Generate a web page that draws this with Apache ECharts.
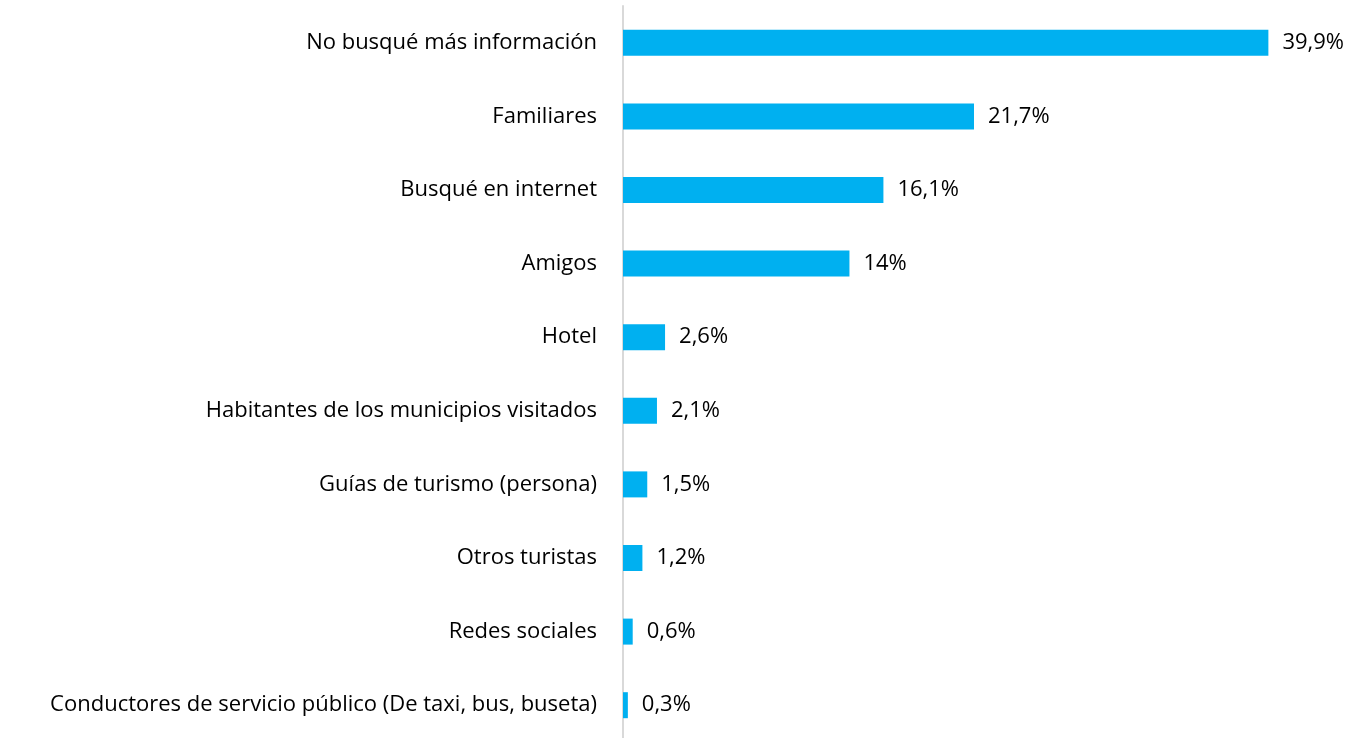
<!DOCTYPE html>
<html>
<head>
<meta charset="utf-8">
<script src="https://cdn.jsdelivr.net/npm/echarts@6/dist/echarts.min.js"></script>
<style>
  html, body { margin: 0; padding: 0; background: #fff; overflow: hidden; }
  #chart { width: 1353px; height: 760px; }
</style>
</head>
<body>
<div id="chart"></div>
<script>
// categories top to bottom
const categories = [
  'No busqué más información',
  'Familiares',
  'Busqué en internet',
  'Amigos',
  'Hotel',
  'Habitantes de los municipios visitados',
  'Guías de turismo (persona)',
  'Otros turistas',
  'Redes sociales',
  'Conductores de servicio público (De taxi, bus, buseta)'
]
const values = [39.9, 21.7, 16.1, 14, 2.6, 2.1, 1.5, 1.2, 0.6, 0.3]

const chart = echarts.init(document.getElementById('chart'))

const option = {
  animation: false,
  textStyle: { fontFamily: 'Open Sans' },
  grid: {
    left: 623,
    width: 647,
    top: 6,
    height: 736,
    containLabel: false
  },
  xAxis: {
    type: 'value',
    min: 0,
    max: 40,
    show: false
  },
  yAxis: {
    type: 'category',
    inverse: true,
    data: categories,
    axisLine: { show: true, lineStyle: { color: '#d9d9d9', width: 2 } },
    axisTick: { show: false },
    axisLabel: {
      margin: 26,
      fontSize: 22,
      color: '#000',
      fontFamily: 'Open Sans'
    }
  },
  series: [
    {
      type: 'bar',
      data: values,
      barWidth: 26,
      itemStyle: { color: '#00b0f0' },
      label: {
        show: true,
        position: 'right',
        distance: 14,
        fontSize: 22,
        color: '#000',
        fontFamily: 'Open Sans',
        formatter: p => String(p.value).replace('.', ',') + '%'
      }
    }
  ]
}
chart.setOption(option)
</script>
</body>
</html>
